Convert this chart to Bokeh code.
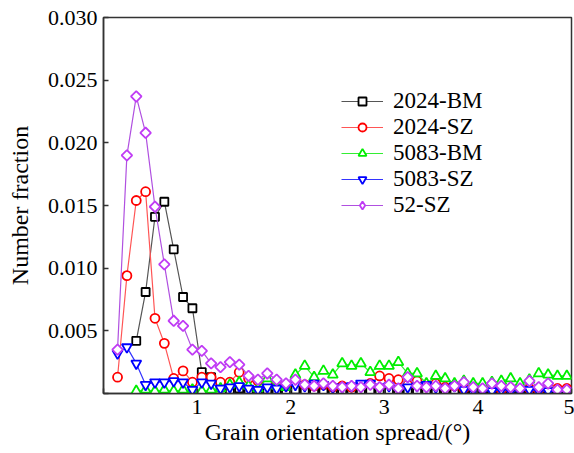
import math
from bokeh.plotting import figure
from bokeh.models import (Legend, LegendItem, FixedTicker, NumeralTickFormatter,
                          Label, Range1d)
from bokeh.embed import file_html
from bokeh.resources import INLINE

FONT = "Liberation Serif"

x_all = [0.15, 0.25, 0.35, 0.45, 0.55, 0.65, 0.75, 0.85, 0.95, 1.05,
         1.15, 1.25, 1.35, 1.45, 1.55, 1.65, 1.75, 1.85, 1.95, 2.05,
         2.15, 2.25, 2.35, 2.45, 2.55, 2.65, 2.75, 2.85, 2.95, 3.05,
         3.15, 3.25, 3.35, 3.45, 3.55, 3.65, 3.75, 3.85, 3.95, 4.05,
         4.15, 4.25, 4.35, 4.45, 4.55, 4.65, 4.75, 4.85, 4.95]
x_from035 = x_all[2:]

bm2024 = [0.0042, 0.0081, 0.0141, 0.0153, 0.0115, 0.0077, 0.0068, 0.0017,
          0.0013, 0.0005, 0.0003, 0.0004, 0.0002, 0.0002, 0.0003, 0.0002,
          0.0002, 0.0003, 0.0002, 0.0002, 0.0001, 0.0002, 0.0002, 0.0001,
          0.0002, 0.0002, 0.0001, 0.0002, 0.0001, 0.0002, 0.0001, 0.0002,
          0.0001, 0.0001, 0.0002, 0.0001, 0.0001, 0.0002, 0.0001, 0.0001,
          0.0001, 0.0002, 0.0001, 0.0001, 0.0001, 0.0001, 0.0001]

sz2024 = [0.0013, 0.0094, 0.0154, 0.0161, 0.0060, 0.0040, 0.0012, 0.0018,
          0.0009, 0.0013, 0.0013, 0.0009, 0.0009, 0.0017, 0.0012, 0.0010,
          0.0008, 0.0009, 0.0006, 0.0011, 0.0007, 0.0006, 0.0007, 0.0005,
          0.0006, 0.0005, 0.0006, 0.0008, 0.0014, 0.0012, 0.0011, 0.0007,
          0.0010, 0.0006, 0.0008, 0.0005, 0.0006, 0.0004, 0.0005, 0.0004,
          0.0005, 0.0003, 0.0004, 0.0005, 0.0004, 0.0003, 0.0005, 0.0004,
          0.0004]

bm5083 = [0.0002, 0.0003, 0.0002, 0.0003, 0.0002, 0.0003, 0.0003, 0.0002,
          0.0003, 0.0004, 0.0007, 0.0009, 0.0006, 0.0004, 0.0012, 0.0006,
          0.0005, 0.0015, 0.0022, 0.0013, 0.0018, 0.0015, 0.0024, 0.0022,
          0.0024, 0.0017, 0.0022, 0.0022, 0.0025, 0.0016, 0.0016, 0.0008,
          0.0014, 0.0012, 0.0008, 0.0010, 0.0008, 0.0008, 0.0009, 0.0010,
          0.0012, 0.0008, 0.0011, 0.0016, 0.0015, 0.0014, 0.0014]

sz5083 = [0.0032, 0.0037, 0.0024, 0.0007, 0.0009, 0.0009, 0.0010, 0.0009,
          0.0003, 0.0009, 0.0008, 0.0004, 0.0005, 0.0006, 0.0004, 0.0003,
          0.0005, 0.0004, 0.0006, 0.0007, 0.0006, 0.0008, 0.0007, 0.0005,
          0.0005, 0.0006, 0.0008, 0.0008, 0.0005, 0.0006, 0.0004, 0.0005,
          0.0006, 0.0007, 0.0005, 0.0004, 0.0006, 0.0003, 0.0003, 0.0002,
          0.0002, 0.0003, 0.0002, 0.0002, 0.0003, 0.0002, 0.0002, 0.0001,
          0.0002]

sz52 = [0.0035, 0.0190, 0.0237, 0.0208, 0.0149, 0.0103, 0.0058, 0.0054,
        0.0035, 0.0034, 0.0024, 0.0021, 0.0025, 0.0023, 0.0014, 0.0011,
        0.0016, 0.0011, 0.0008, 0.0011, 0.0007, 0.0006, 0.0008, 0.0006,
        0.0005, 0.0006, 0.0005, 0.0007, 0.0005, 0.0007, 0.0004, 0.0013,
        0.0006, 0.0005, 0.0006, 0.0004, 0.0006, 0.0009, 0.0005, 0.0004,
        0.0008, 0.0006, 0.0005, 0.0004, 0.0010, 0.0005, 0.0008, 0.0003,
        0.0003]

labels = ["2024-BM", "2024-SZ", "5083-BM", "5083-SZ", "52-SZ"]
y_ticks = [0, 0.005, 0.010, 0.015, 0.020, 0.025, 0.030]
x_ticks = [0, 1, 2, 3, 4, 5]

p = figure(frame_width=468, frame_height=376, output_backend="svg",
           toolbar_location=None, x_range=Range1d(0, 5),
           y_range=Range1d(0, 0.030), min_border_left=103,
           min_border_right=3, min_border_top=17, min_border_bottom=60)
p.width = 574
p.height = 453
p.background_fill_color = "white"
p.border_fill_color = "white"
p.xgrid.visible = False
p.ygrid.visible = False
p.outline_line_color = "#333333"
p.outline_line_width = 1.5
p.outline_line_alpha = 1.0

series = [
    (x_from035, bm2024, "#000000", "#555555", "square", 8, 0, None),
    (x_all, sz2024, "#ff0000", "#ff5555", "circle", 9, 0, None),
    (x_from035, bm5083, "#00ee00", "#33ee33", "triangle", 10, 0, None),
    (x_all, sz5083, "#0000ff", "#3333ff", "inverted_triangle", 10, 0, None),
    (x_all, sz52, "#c03cf5", "#b050e0", "square", 7.5, math.pi / 4, "diamond"),
]

items = []
for (xs, ys, mc, lc, mk, sz, ang, legmk), lab in zip(series, labels):
    r1 = p.line(xs, ys, line_color=lc, line_width=1.2)
    r2 = p.scatter(xs, ys, marker=mk, size=sz, angle=ang,
                   line_color=mc, line_width=1.8, fill_color="white")
    rends = [r1, r2]
    if legmk is not None:
        # legend-only glyph (a NaN point draws nothing on the plot)
        r3 = p.scatter([xs[0]], [float("nan")], marker=legmk, size=sz,
                       line_color=mc, line_width=1.8, fill_color="white")
        rends = [r1, r3]
    items.append(LegendItem(label=lab, renderers=rends))

legend = Legend(items=items, location=(238, 175), orientation="vertical",
                border_line_alpha=0, background_fill_alpha=0,
                label_text_font=FONT, label_text_font_size="23px",
                label_text_line_height=0.9,
                label_text_color="black", glyph_width=42, glyph_height=20,
                label_height=20, label_standoff=10, spacing=0, padding=0,
                margin=0)
p.add_layout(legend)

for ax in (p.xaxis[0], p.yaxis[0]):
    ax.axis_line_color = "#333333"
    ax.axis_line_width = 1.5
    ax.major_tick_in = 5
    ax.major_tick_out = 0
    ax.minor_tick_in = 0
    ax.minor_tick_out = 0
    ax.major_tick_line_color = "#333333"
    ax.major_tick_line_width = 1.5
    ax.major_label_text_font = FONT
    ax.major_label_text_font_size = "22px"
    ax.major_label_text_color = "black"
    ax.axis_label_text_font = FONT
    ax.axis_label_text_font_size = "24px"
    ax.axis_label_text_font_style = "normal"
    ax.axis_label_text_color = "black"

p.yaxis[0].ticker = FixedTicker(ticks=y_ticks)
p.yaxis[0].formatter = NumeralTickFormatter(format="0.000")
p.yaxis[0].major_label_overrides = {0: ""}
p.yaxis[0].axis_label = "Number fraction"
p.yaxis[0].major_label_standoff = 6
p.yaxis[0].axis_label_standoff = 12

p.xaxis[0].ticker = FixedTicker(ticks=x_ticks)
p.xaxis[0].major_label_overrides = {0: ""}
p.xaxis[0].axis_label = "Grain orientation spread/(°)"
p.xaxis[0].major_label_standoff = 6
p.xaxis[0].axis_label_standoff = 2

p.add_layout(Label(x=0, y=0, text="0", x_offset=-11, y_offset=-9,
                   text_align="center", text_baseline="middle",
                   text_font=FONT, text_font_size="22px",
                   text_color="black"))

open("out.html", "w").write(file_html(p, INLINE))
